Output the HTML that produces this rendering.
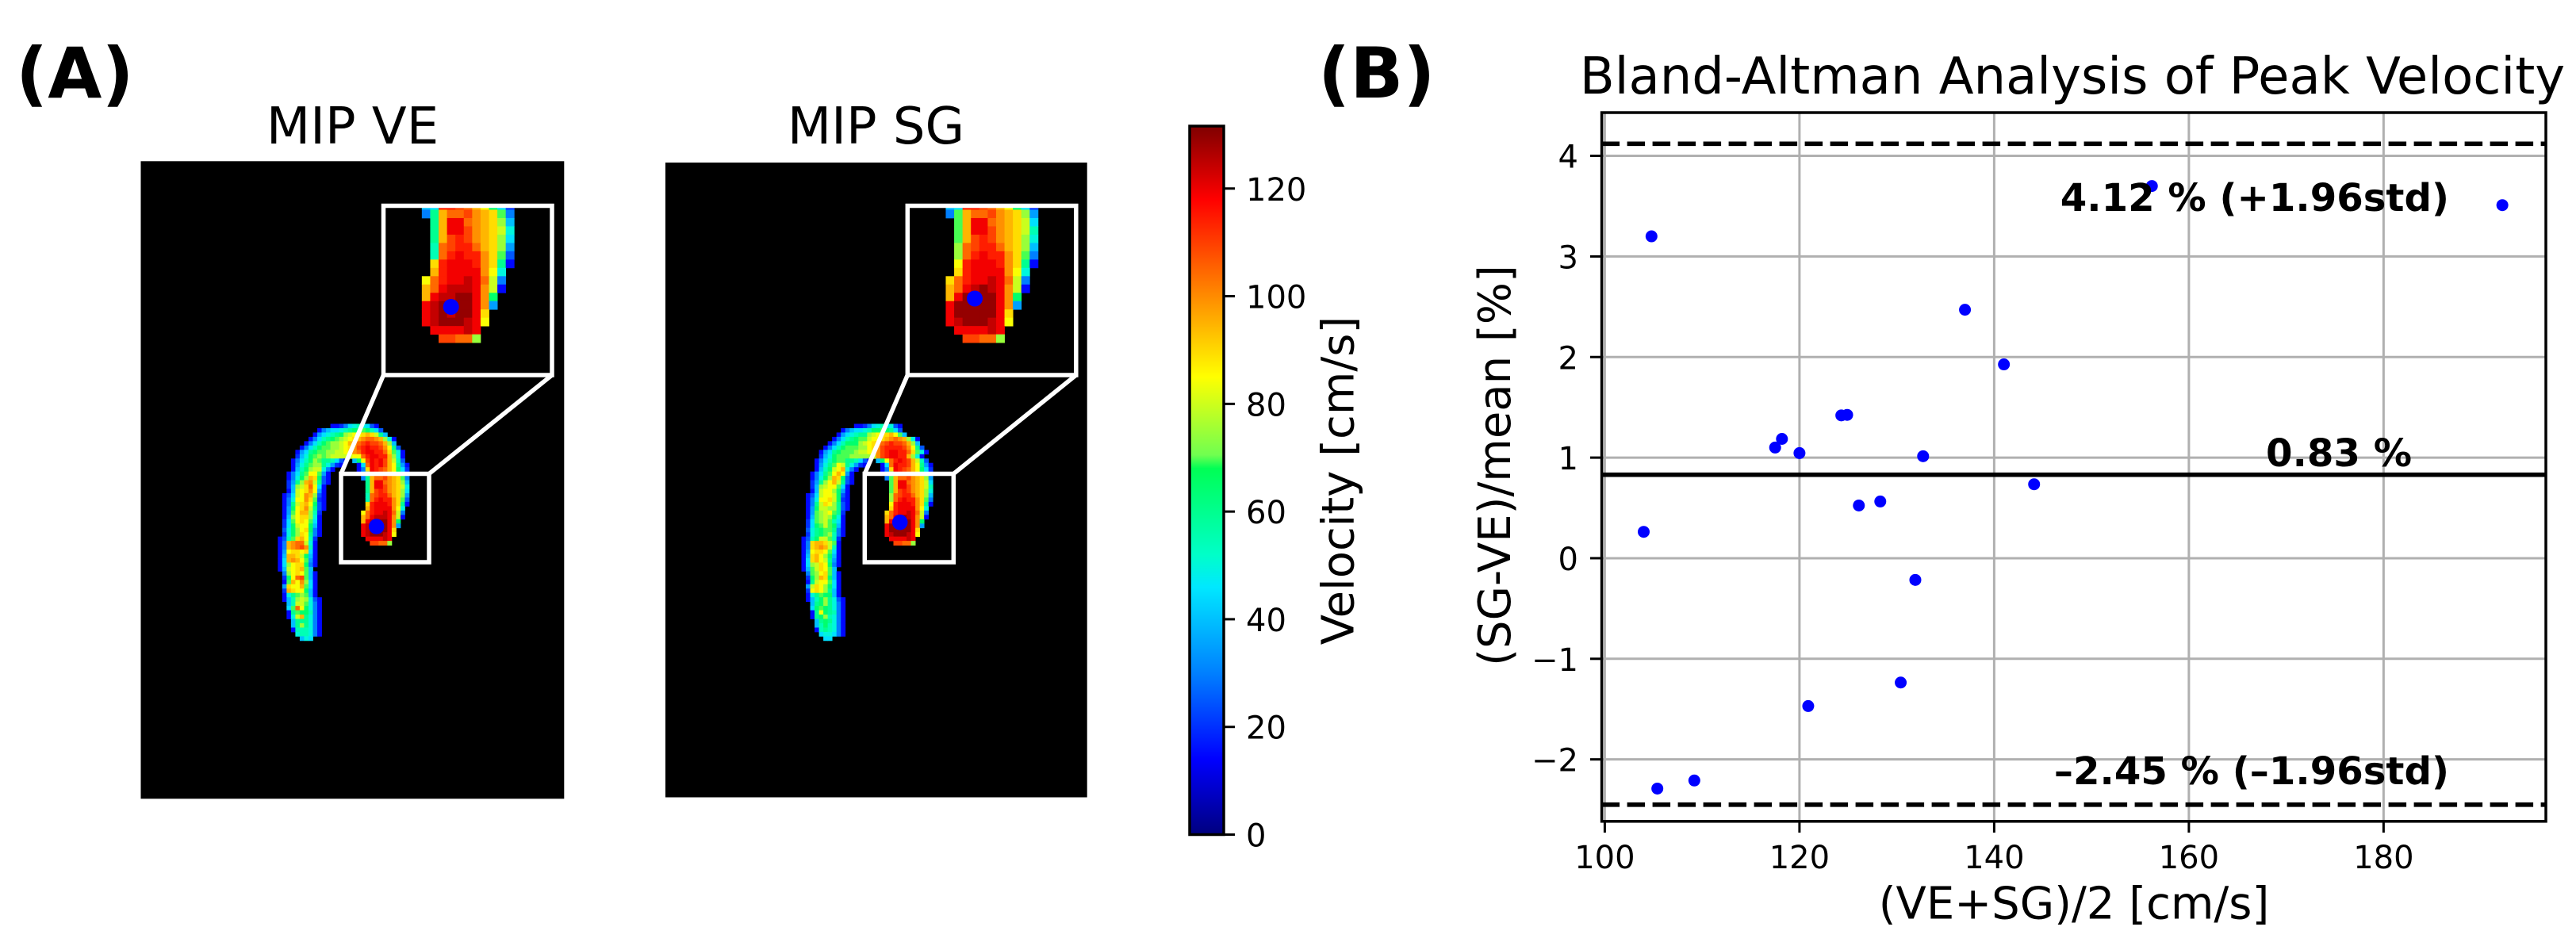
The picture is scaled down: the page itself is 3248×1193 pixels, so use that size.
<!DOCTYPE html>
<html lang="en">
<head>
<meta charset="utf-8">
<title>MIP comparison and Bland-Altman analysis</title>
<style>
html,body{margin:0;padding:0;background:#fff;}
svg{display:block;}
text{font-family:"DejaVu Sans","Liberation Sans",sans-serif;fill:#000;}
.b{font-weight:bold;}
</style>
</head>
<body>
<svg id="fig" xmlns="http://www.w3.org/2000/svg" width="3248" height="1193" viewBox="0 0 3248 1193">
  <rect x="0" y="0" width="3248" height="1193" fill="#fff"/>
  <defs>
    <clipPath id="clipInsetA"><rect x="483.5" y="259.5" width="212.5" height="213.5"/></clipPath>
    <clipPath id="clipInsetB"><rect x="1144.3" y="259.5" width="212.5" height="213.5"/></clipPath>
    <clipPath id="clipPlot"><rect x="2019.6" y="142" width="1190.4" height="893.8"/></clipPath>
    <linearGradient id="jetGrad" x1="0" y1="1" x2="0" y2="0"></linearGradient>
  </defs>

  <text class="b" x="20" y="123" font-size="88">(A)</text>
  <text class="b" x="1662" y="123" font-size="88">(B)</text>

  <text x="444.5" y="181" font-size="64" text-anchor="middle">MIP VE</text>
  <text x="1104.5" y="181" font-size="64" text-anchor="middle">MIP SG</text>

  <rect x="177.5" y="203.3" width="533.8" height="804" fill="#000"/>
  <rect x="839" y="205" width="531.7" height="800.5" fill="#000"/>

  <g id="heatA"></g>
  <g id="heatB"></g>
  <g id="insetA" clip-path="url(#clipInsetA)"></g>
  <g id="insetB" clip-path="url(#clipInsetB)"></g>

  <g fill="none" stroke="#fff" stroke-width="5.5">
    <rect x="430" y="597.5" width="111" height="111.5"/>
    <rect x="483.5" y="259.5" width="212.5" height="213.5"/>
    <line x1="430" y1="597.5" x2="483.5" y2="473"/>
    <line x1="541" y1="597.5" x2="696" y2="473"/>
    <rect x="1090.3" y="597.5" width="112" height="111.5"/>
    <rect x="1144.3" y="259.5" width="212.5" height="213.5"/>
    <line x1="1090.3" y1="597.5" x2="1144.3" y2="473"/>
    <line x1="1202.3" y1="597.5" x2="1356.8" y2="473"/>
  </g>
  <g fill="#0000ff">
    <circle cx="474.7" cy="664" r="9.8"/>
    <circle cx="568.7" cy="387" r="10"/>
    <circle cx="1134.7" cy="658.7" r="9.8"/>
    <circle cx="1229" cy="376.5" r="10"/>
  </g>

  <rect x="1500" y="159" width="43" height="893.5" fill="url(#jetGrad)" stroke="#000" stroke-width="3.5"/>
  <g id="cbTicks"></g>
  <text transform="translate(1706.7,606) rotate(-90)" font-size="56" text-anchor="middle">Velocity [cm/s]</text>

  <text x="2613" y="118" font-size="64" text-anchor="middle">Bland-Altman Analysis of Peak Velocity</text>
  <g id="grid" clip-path="url(#clipPlot)"></g>
  <g id="refLines" clip-path="url(#clipPlot)"></g>
  <g id="points"></g>
  <g id="annots"></g>
  <rect x="2019.6" y="142" width="1190.4" height="893.8" fill="none" stroke="#000" stroke-width="3.5"/>
  <g id="xAxis"></g>
  <g id="yAxis"></g>
  <text x="2615" y="1158.5" font-size="56" text-anchor="middle">(VE+SG)/2 [cm/s]</text>
  <text transform="translate(1904,587) rotate(-90)" font-size="56" text-anchor="middle">(SG-VE)/mean [%]</text>
</svg>

<script>
const meanVelocity = [104.8,117.5,118.2,120.0,124.3,124.9,126.1,128.3,132.7,137.0,141.0,144.1,156.2,192.2,104.0,131.9,130.4,120.9,105.4,109.2];
const percentDiff = [3.2,1.10,1.186,1.045,1.42,1.425,0.524,0.564,1.014,2.47,1.927,0.735,3.70,3.51,0.262,-0.216,-1.236,-1.47,-2.29,-2.21];
const meanDiff = 0.83;
const upperLimit = 4.12;
const lowerLimit = -2.45;
const xTickValues = [100,120,140,160,180];
const yTickValues = [-2,-1,0,1,2,3,4];
const colorbarTickValues = [0,20,40,60,80,100,120];
const annotationLabels = ["4.12 % (+1.96std)","0.83 %","\u20132.45 % (\u20131.96std)"];

/* velocity map, one string per image row; each character is a base-36 velocity level, "." = background */
const heatVE = [
"............33469aba953",
".........36899abcddedb95",
"........379abcdfghhijigc8",
".......369bcdefghijkllkjfa3",
"......369bdeffghjklmnmmljf8",
".....369bdeeffghikmnonnmkhc5",
"....379cdeeffgghiklnoonnliea3",
"....48adefefggggghhlnoonnjfa3",
"...369bdfeccb953.8dhmonomjgb5",
"...37aceffca743...39lonomjhc73",
"...38bdfgga63.....36ionmljhd94",
"..369cehhe73.......89nnmljhd94",
"..36adfjid53.......6cjllmkjie6",
"..47cfjkgc53........cjoolkjif8",
"..48fgilh93.........cjoomkjiga",
"..38ghikh73.........cjmnmkjif9",
".359ghkjf53.........blmnnljif7",
".36ahhkie43.........blnonnkie5",
".36cgijhd53.........inooonkic3",
".37dhikgc53.........jnooookha",
".37ehjjfb4.........hlnoopolg6",
".38fhiifa3.........jlopppokg3",
".49ehihe93.........joppqqokd",
".49dghhd83.........opqqqqok7",
".5adfhid63.........opqpqqoi",
".4adfihc63.........opqqqpoh",
"35beijhb4...........oooopo",
"36jkllga3............mmllf",
"36jklmkb3",
"37hiihi93",
"38jjigd83",
"39jkjhe73",
"39fhiid63",
"38ghije8",
".6fhihe83",
".4dhlme83",
".3ejhkf93",
".7ihhje93",
".4jihhd83",
".3acefe83",
".38bfgfa53",
"..8bggea63",
"..9elhda63",
"..3ceddb63",
"..3agjca63",
"...8ccca63",
"...8cfca63",
"...3bbba63",
"....abba63",
".....8a9"
];
const heatSG = [
"............33469ab9a53",
".........36899abddedc95",
"........379abccfghiijhe8",
".......369bcdeeghhijklkjfa3",
"......369bdddfghiklmnmmljf8",
".....369bdeeeffhikmnnnnmkhc5",
"....379cdeeefgghhkmnoonnliea3",
"....48adeeefffffgkmnoonnjfa3",
"...369bdeeccb953.8dhlnonmjgb5",
"...37acehgca743...39lonnmjhc73",
"...38bdghja63.....36ionmljhd94",
"..369cehjh73.......89nnmljhd94",
"..36adfjid53.......6ejllmkjif7",
"..47cfhjgc53........ejoolkjig9",
"..48fghhe93.........ejoomkjigb",
"..38ghhfd73.........ejmnmkjifa",
".359ghhgd53.........flmnnljif8",
".36ahhigd43.........flnonnkie6",
".36cgihfc53.........hnooonkic3",
".37dggffc53.........inooookha",
".37efghec4.........ilnoopolg6",
".38efgfda3.........jlopqpokg3",
".49efgeb93.........joqqqqokd",
".49deged83.........oqqqqqok7",
".5acdeec63.........oqqqqqoi",
".4acdefb63.........opqqqpoh",
"35bdggeb4...........oooopo",
"36ijjige3............mmllf",
"36ijkjgb3",
"37hiihe93",
"38ijhfd83",
"39ijhgc73",
"39fgihd63",
"38egihe8",
".6efhie83",
".4dfjid83",
".3cghhe93",
".7gihfd93",
".4hihfc83",
".3acedd83",
".38bdfca53",
"..8cdfca63",
"..9dedca63",
"..3chdcb63",
"..3cdfba63",
"...8cdca63",
"...8bdba63",
"...3bcba63",
"....9aa963",
".....99"
];

const jetValues = [0,14,30,46,52,68,70.5,85,118,131.6];
const jetColors = [[0,0,127],[0,0,255],[0,128,255],[0,232,255],[0,255,200],[0,255,85],[112,255,80],[255,255,0],[255,0,0],[127,0,0]];

const NS = 'http://www.w3.org/2000/svg';
const X_DOMAIN = [99.69,196.67], X_RANGE = [2019.6,3210];
const Y_DOMAIN = [-2.616,4.43], Y_RANGE = [1035.8,142];
const CB_DOMAIN = [0,131.6], CB_RANGE = [1052.5,159];
function scale(d,r,v){return r[0]+(v-d[0])*(r[1]-r[0])/(d[1]-d[0]);}
function xScale(v){return scale(X_DOMAIN,X_RANGE,v);}
function yScale(v){return scale(Y_DOMAIN,Y_RANGE,v);}
function cbScale(v){return scale(CB_DOMAIN,CB_RANGE,v);}
function make(tag,parent,attrs){
  const el=document.createElementNS(NS,tag);
  for(const k in attrs){el.setAttribute(k,attrs[k]);}
  parent.appendChild(el);
  return el;
}
function jetColor(v){
  let i=0;
  while(i<jetValues.length-2&&v>jetValues[i+1]){i++;}
  const t=Math.max(0,Math.min(1,(v-jetValues[i])/(jetValues[i+1]-jetValues[i])));
  const a=jetColors[i],b=jetColors[i+1];
  return 'rgb('+Math.round(a[0]+(b[0]-a[0])*t)+','+Math.round(a[1]+(b[1]-a[1])*t)+','+Math.round(a[2]+(b[2]-a[2])*t)+')';
}
const LEVEL_STEP=4.97;
function drawHeat(groupId,rows,x0,y0,sx,sy){
  const g=document.getElementById(groupId);
  rows.forEach(function(row,r){
    for(let c=0;c<row.length;c++){
      if(row[c]==='.'){continue;}
      const v=parseInt(row[c],36)*LEVEL_STEP;
      const cell=make('rect',g,{x:x0+c*sx,y:y0+r*sy,width:sx+0.4,height:sy+0.4,fill:jetColor(v)});
      
      
    }
  });
}
const PX=5.523,PY=5.467,INS=1.916,Y0=534.5;
drawHeat('heatA',heatVE,350.3,Y0,PX,PY);
drawHeat('heatB',heatSG,1010.5,Y0,PX,PY);
drawHeat('insetA',heatVE,483.5+(350.3-430)*INS,259.5+(Y0-597.5)*INS,PX*INS,PY*INS);
drawHeat('insetB',heatSG,1144.3+(1010.5-1090.3)*INS,259.5+(Y0-597.5)*INS,PX*INS,PY*INS);

/* colorbar */
const grad=document.getElementById('jetGrad');
jetValues.forEach(function(v,i){
  const c=jetColors[i];
  make('stop',grad,{offset:(v/131.6),'stop-color':'rgb('+c.join(',')+')'});
});
const cbG=document.getElementById('cbTicks');
colorbarTickValues.forEach(function(v){
  const t=make('line',cbG,{x1:1543,x2:1557,y1:cbScale(v),y2:cbScale(v),stroke:'#000','stroke-width':3});
  
  
  const l=make('text',cbG,{x:1571,y:cbScale(v)+15,'font-size':40});
  l.textContent=String(v);
  
  
});

/* grid + axes */
const gridG=document.getElementById('grid');
const xG=document.getElementById('xAxis');
const yG=document.getElementById('yAxis');
xTickValues.forEach(function(v){
  const px=xScale(v);
  const gl=make('line',gridG,{x1:px,x2:px,y1:142,y2:1035.8,stroke:'#b0b0b0','stroke-width':3});
  
  
  const t=make('line',xG,{x1:px,x2:px,y1:1035.8,y2:1050,stroke:'#000','stroke-width':3});
  
  
  const l=make('text',xG,{x:px,y:1095,'font-size':40,'text-anchor':'middle'});
  l.textContent=String(v);
  
  
});
yTickValues.forEach(function(v){
  const py=yScale(v);
  const gl=make('line',gridG,{x1:2019.6,x2:3210,y1:py,y2:py,stroke:'#b0b0b0','stroke-width':3});
  
  
  const t=make('line',yG,{x1:2005,x2:2019.6,y1:py,y2:py,stroke:'#000','stroke-width':3});
  
  
  const l=make('text',yG,{x:1990,y:py+15,'font-size':40,'text-anchor':'end'});
  l.textContent=(v<0?'\u2212':'')+Math.abs(v);
  
  
});

/* reference lines */
const refG=document.getElementById('refLines');
const upperLine=make('line',refG,{x1:2019.6,x2:3210,y1:yScale(upperLimit),y2:yScale(upperLimit),stroke:'#000','stroke-width':5.7,'stroke-dasharray':'22.5 9.5'});


const meanLine=make('line',refG,{x1:2019.6,x2:3210,y1:yScale(meanDiff),y2:yScale(meanDiff),stroke:'#000','stroke-width':5.7});


const lowerLine=make('line',refG,{x1:2019.6,x2:3210,y1:yScale(lowerLimit),y2:yScale(lowerLimit),stroke:'#000','stroke-width':5.7,'stroke-dasharray':'22.5 9.5'});



/* points */
const ptsG=document.getElementById('points');
meanVelocity.forEach(function(v,i){
  const p=make('circle',ptsG,{cx:xScale(v),cy:yScale(percentDiff[i]),r:7.5,fill:'#0000ff'});
  
  
});

/* annotations */
const anG=document.getElementById('annots');
const a1=make('text',anG,{x:3088,y:yScale(upperLimit)+84.5,'font-size':48.2,'text-anchor':'end','font-weight':'bold'});
a1.textContent=annotationLabels[0];


const a2=make('text',anG,{x:3041,y:yScale(meanDiff)-10.5,'font-size':48.2,'text-anchor':'end','font-weight':'bold'});
a2.textContent=annotationLabels[1];


const a3=make('text',anG,{x:3088,y:yScale(lowerLimit)-25.5,'font-size':48.2,'text-anchor':'end','font-weight':'bold'});
a3.textContent=annotationLabels[2];


</script>
</body>
</html>
